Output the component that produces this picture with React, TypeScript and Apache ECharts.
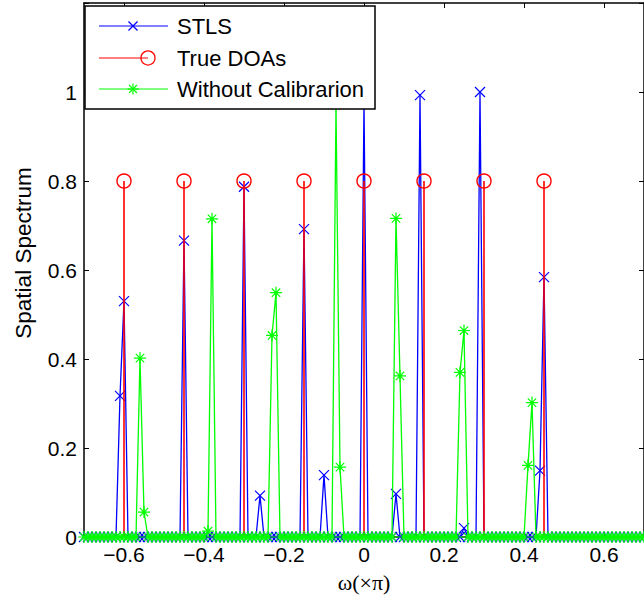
import React, { useEffect, useRef } from "react";
import * as echarts from "echarts";

// Sampling grid of the spectrum (omega in units of pi)
const gridStart = -0.7;
const gridStep = 0.01;
const gridCount = 141;

// STLS spectrum: non-zero samples (all other grid samples are 0)
const stlsOmega = [-0.61, -0.6, -0.45, -0.3, -0.26, -0.15, -0.1, 0.0, 0.08, 0.14, 0.25, 0.29, 0.44, 0.45];
const stlsValue = [0.317, 0.53, 0.666, 0.787, 0.093, 0.692, 0.139, 0.98, 0.097, 0.993, 0.02, 1.0, 0.149, 0.584];

// True DOAs (stems)
const doaOmega = [-0.6, -0.45, -0.3, -0.15, 0.0, 0.15, 0.3, 0.45];
const doaValue = [0.8, 0.8, 0.8, 0.8, 0.8, 0.8, 0.8, 0.8];

// Without calibration spectrum: non-zero samples
const noCalOmega = [-0.56, -0.55, -0.39, -0.38, -0.23, -0.22, -0.07, -0.06, 0.08, 0.09, 0.24, 0.25, 0.41, 0.42];
const noCalValue = [0.402, 0.056, 0.013, 0.715, 0.453, 0.549, 0.97, 0.157, 0.716, 0.362, 0.37, 0.464, 0.161, 0.302];

const xTickValues = [-0.6, -0.4, -0.2, 0, 0.2, 0.4, 0.6];
const yTickValues = [0, 0.2, 0.4, 0.6, 0.8, 1];

const legendNames = ["STLS", "True DOAs", "Without Calibrarion"];

const FONT = "'Liberation Sans', Arial, Helvetica, sans-serif";
const BLUE = "#0000ff";
const RED = "#ff0000";
const GREEN = "#00ff00";

const X_SYMBOL = "path://M0,0L10,10M10,0L0,10";
const STAR_SYMBOL = "path://M5,0L5,10M0,5L10,5M1.5,1.5L8.5,8.5M8.5,1.5L1.5,8.5";

function buildSeries(omegas: number[], values: number[]) {
  const out: number[][] = [];
  for (let i = 0; i < gridCount; i++) {
    const w = Math.round((gridStart + i * gridStep) * 100) / 100;
    let v = 0;
    for (let k = 0; k < omegas.length; k++) {
      if (Math.abs(omegas[k] - w) < 1e-6) v = values[k];
    }
    out.push([w, v]);
  }
  return out;
}

function fmtX(v: number) {
  const r = Math.round(v * 10) / 10;
  if (Math.abs(r) < 1e-9) return "0";
  return (r < 0 ? "\u2212" : "") + Math.abs(r).toFixed(1);
}

function fmtY(v: number) {
  const r = Math.round(v * 10) / 10;
  if (!yTickValues.some((t) => Math.abs(t - r) < 1e-9)) return "";
  return String(r);
}

function xMarker(cx: number, cy: number, s: number, color: string) {
  return [
    { type: "line", shape: { x1: cx - s, y1: cy - s, x2: cx + s, y2: cy + s }, style: { stroke: color, lineWidth: 1.2 }, z: 101 },
    { type: "line", shape: { x1: cx - s, y1: cy + s, x2: cx + s, y2: cy - s }, style: { stroke: color, lineWidth: 1.2 }, z: 101 },
  ];
}

function starMarker(cx: number, cy: number, s: number, color: string) {
  const d = s * 0.72;
  return [
    { type: "line", shape: { x1: cx - s, y1: cy, x2: cx + s, y2: cy }, style: { stroke: color, lineWidth: 1.2 }, z: 101 },
    { type: "line", shape: { x1: cx, y1: cy - s, x2: cx, y2: cy + s }, style: { stroke: color, lineWidth: 1.2 }, z: 101 },
    { type: "line", shape: { x1: cx - d, y1: cy - d, x2: cx + d, y2: cy + d }, style: { stroke: color, lineWidth: 1.2 }, z: 101 },
    { type: "line", shape: { x1: cx - d, y1: cy + d, x2: cx + d, y2: cy - d }, style: { stroke: color, lineWidth: 1.2 }, z: 101 },
  ];
}

export default function App() {
  const ref = useRef<HTMLDivElement>(null);

  useEffect(() => {
    if (!ref.current) return;
    const chart = echarts.init(ref.current, null, { renderer: "svg" });

    const axisLineStyle = { color: "#000", width: 1.5 };
    const tickStyle = { color: "#000", width: 1 };

    const legendX = 85;
    const legendY = 6;
    const rows = [26, 58, 89];

    const option: any = {
      animation: false,
      backgroundColor: "#fff",
      grid: { left: 84, right: -2, top: 3, bottom: 60, containLabel: false },
      xAxis: [
        {
          type: "value",
          min: -0.7,
          max: 0.7,
          position: "bottom",
          axisLine: { show: true, onZero: false, lineStyle: axisLineStyle },
          axisTick: { show: true, inside: true, length: 5, lineStyle: tickStyle, customValues: xTickValues },
          axisLabel: {
            show: true,
            customValues: xTickValues,
            formatter: fmtX,
            fontSize: 21,
            color: "#000",
            fontFamily: FONT,
            margin: 7,
          },
          splitLine: { show: false },
        },
        {
          type: "value",
          min: -0.7,
          max: 0.7,
          position: "top",
          axisLine: { show: true, onZero: false, lineStyle: axisLineStyle },
          axisTick: { show: true, inside: true, length: 5, lineStyle: tickStyle, customValues: xTickValues },
          axisLabel: { show: false },
          splitLine: { show: false },
        },
      ],
      yAxis: [
        {
          type: "value",
          min: 0,
          max: 1.2,
          interval: 0.2,
          position: "left",
          axisLine: { show: true, onZero: false, lineStyle: axisLineStyle },
          axisTick: { show: true, inside: true, length: 5, lineStyle: tickStyle },
          axisLabel: { show: true, formatter: fmtY, fontSize: 21, color: "#000", fontFamily: FONT, margin: 7 },
          splitLine: { show: false },
        },
        {
          type: "value",
          min: 0,
          max: 1.2,
          interval: 0.2,
          position: "right",
          axisLine: { show: true, onZero: false, lineStyle: axisLineStyle },
          axisTick: { show: true, inside: true, length: 5, lineStyle: tickStyle },
          axisLabel: { show: false },
          splitLine: { show: false },
        },
      ],
      series: [
        {
          name: legendNames[0],
          type: "line",
          xAxisIndex: 0,
          yAxisIndex: 0,
          data: buildSeries(stlsOmega, stlsValue),
          showAllSymbol: true,
          symbol: X_SYMBOL,
          symbolSize: 10,
          lineStyle: { color: BLUE, width: 1.3 },
          itemStyle: { color: BLUE, borderColor: BLUE, borderWidth: 1.2 },
          z: 2,
        },
        {
          name: legendNames[1],
          type: "custom",
          xAxisIndex: 0,
          yAxisIndex: 0,
          data: doaOmega.map((w, i) => [w, doaValue[i]]),
          encode: { x: 0, y: 1 },
          renderItem: (params: any, api: any) => {
            const x = api.value(0);
            const y = api.value(1);
            const p0 = api.coord([x, 0]);
            const p1 = api.coord([x, y]);
            return {
              type: "group",
              children: [
                { type: "line", shape: { x1: p0[0], y1: p0[1], x2: p1[0], y2: p1[1] }, style: { stroke: RED, lineWidth: 1.6 } },
                { type: "circle", shape: { cx: p1[0], cy: p1[1], r: 7 }, style: { stroke: RED, fill: "none", lineWidth: 1.4 } },
              ],
            };
          },
          z: 3,
        },
        {
          name: legendNames[2],
          type: "line",
          xAxisIndex: 0,
          yAxisIndex: 0,
          data: buildSeries(noCalOmega, noCalValue),
          showAllSymbol: true,
          symbol: STAR_SYMBOL,
          symbolSize: 12,
          lineStyle: { color: GREEN, width: 1.3 },
          itemStyle: { color: GREEN, borderColor: GREEN, borderWidth: 1.2 },
          z: 4,
        },
      ],
      graphic: [
        {
          type: "text",
          x: 364,
          y: 582,
          style: { text: "\u03c9(\u00d7\u03c0)", font: "22px 'Liberation Serif', 'Times New Roman', serif", fill: "#000", align: "center", verticalAlign: "middle" },
          z: 100,
        },
        {
          type: "text",
          x: 23,
          y: 253,
          rotation: Math.PI / 2,
          style: { text: "Spatial Spectrum", font: `22.5px ${FONT}`, fill: "#000", align: "center", verticalAlign: "middle" },
          z: 100,
        },
        {
          type: "rect",
          shape: { x: legendX, y: legendY, width: 290, height: 103 },
          style: { fill: "#fff", stroke: "#000", lineWidth: 1.5 },
          z: 100,
        },
        { type: "line", shape: { x1: 99, y1: rows[0], x2: 168, y2: rows[0] }, style: { stroke: BLUE, lineWidth: 1.2 }, z: 101 },
        ...xMarker(133, rows[0], 4.5, BLUE),
        { type: "line", shape: { x1: 99, y1: rows[1], x2: 148, y2: rows[1] }, style: { stroke: RED, lineWidth: 1.2 }, z: 101 },
        { type: "circle", shape: { cx: 148, cy: rows[1], r: 7 }, style: { stroke: RED, fill: "none", lineWidth: 1.3 }, z: 101 },
        { type: "line", shape: { x1: 99, y1: rows[2], x2: 168, y2: rows[2] }, style: { stroke: GREEN, lineWidth: 1.2 }, z: 101 },
        ...starMarker(133, rows[2], 5.5, GREEN),
        ...legendNames.map((n, i) => ({
          type: "text",
          x: 177,
          y: rows[i],
          style: { text: n, font: `22px ${FONT}`, fill: "#000", align: "left", verticalAlign: "middle" },
          z: 101,
        })),
      ],
    };

    chart.setOption(option);
    return () => chart.dispose();
  }, []);

  return (
    <div
      ref={ref}
      style={{ position: "fixed", left: 0, top: 0, width: 644, height: 597, background: "#fff" }}
    />
  );
}
